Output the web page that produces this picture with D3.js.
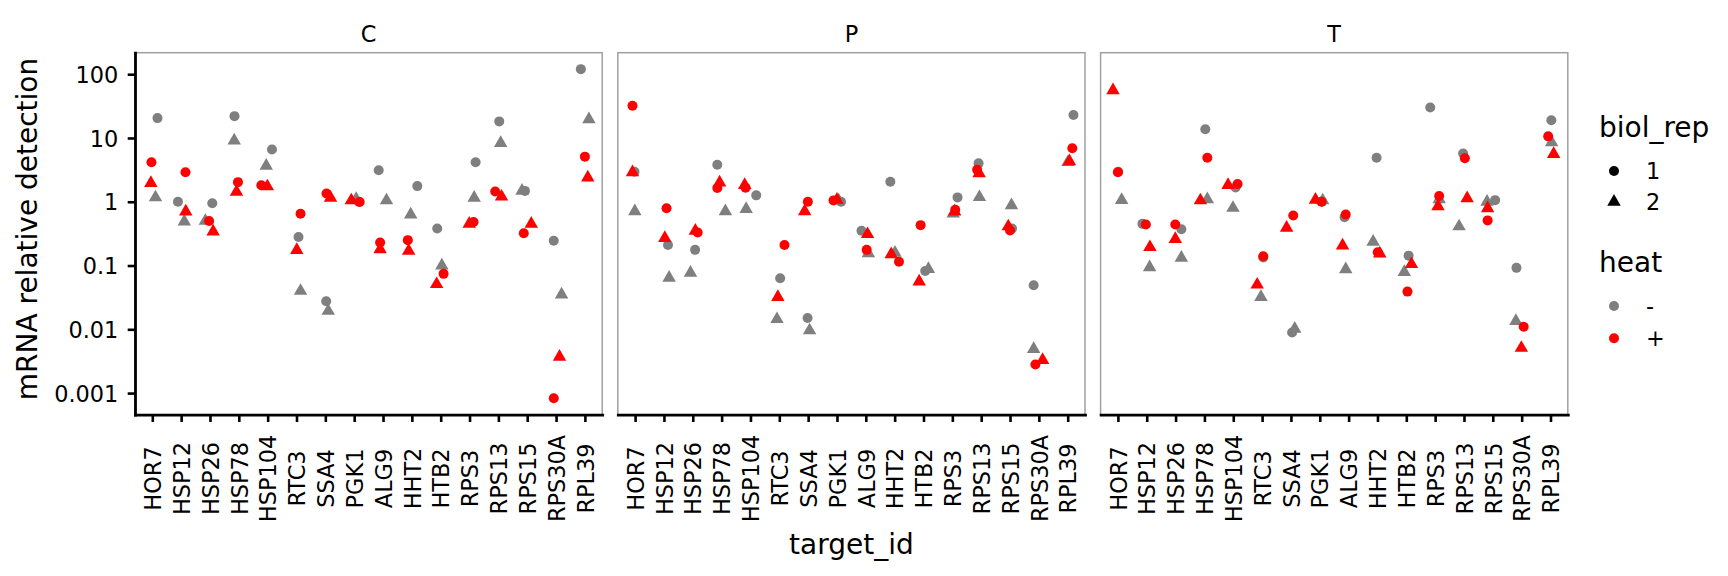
<!DOCTYPE html>
<html>
<head>
<meta charset="utf-8">
<script src="https://cdn.jsdelivr.net/npm/d3@7"></script>
<style>
  body { margin: 0; background: #fff; }
  svg { display: block; font-family: "DejaVu Sans", sans-serif; }
</style>
</head>
<body>
<svg id="chart" width="1728" height="576"></svg>
<script>
// genes on the x axis, in plot order
const targets = ["HOR7","HSP12","HSP26","HSP78","HSP104","RTC3","SSA4","PGK1",
                 "ALG9","HHT2","HTB2","RPS3","RPS13","RPS15","RPS30A","RPL39"];
const panels = ["C", "P", "T"];
const yTicks = [0.001, 0.01, 0.1, 1, 10, 100];

// relative detection (heat -/+ , biol_rep 1/2)
const C_minus_1 = [20.5, 1.0, 0.95, 22, 6.6, 0.28, 0.0276, 1.0, 3.12, 1.76, 0.38, 4.17, 18.2, 1.48, 0.245, 120];
const C_minus_2 = [1.17, 0.49, 0.5, 9.1, 3.65, 0.04, 0.0194, 1.1, 1.05, 0.63, 0.1, 1.15, 8.3, 1.48, 0.035, 19.6];
const C_plus_1  = [4.17, 2.9, 0.5, 2.03, 1.82, 0.65, 1.35, 0.99, 0.23, 0.25, 0.074, 0.48, 1.45, 0.32, 0.00083, 5.1];
const C_plus_2  = [1.96, 0.70, 0.34, 1.43, 1.74, 0.175, 1.15, 1.05, 0.18, 0.17, 0.051, 0.45, 1.2, 0.45, 0.0037, 2.4];

const P_minus_1 = [2.96, 0.21, 0.176, 3.8, 1.26, 0.063, 0.015, 1.0, 0.35, 2.06, 0.082, 1.17, 4.0, 0.38, 0.049, 23];
const P_minus_2 = [0.71, 0.064, 0.077, 0.71, 0.77, 0.0144, 0.0096, 1.05, 0.155, 0.158, 0.088, 0.65, 1.18, 0.88, 0.0049, 4.2];
const P_plus_1  = [32, 0.79, 0.33, 1.64, 1.66, 0.21, 1.0, 1.05, 0.176, 0.115, 0.43, 0.75, 3.18, 0.355, 0.0028, 6.9];
const P_plus_2  = [2.9, 0.27, 0.35, 2.0, 1.83, 0.032, 0.71, 1.07, 0.31, 0.15, 0.056, 0.70, 2.8, 0.41, 0.0033, 4.3];

const T_minus_1 = [2.96, 0.45, 0.37, 13.7, 1.68, 0.134, 0.0089, 1.0, 0.57, 4.9, 0.143, 30, 5.7, 1.06, 0.092, 19];
const T_minus_2 = [1.06, 0.094, 0.132, 1.09, 0.80, 0.032, 0.0102, 1.05, 0.087, 0.235, 0.079, 1.09, 0.41, 1.0, 0.0135, 8.5];
const T_plus_1  = [2.9, 0.44, 0.44, 4.9, 1.9, 0.14, 0.61, 1.0, 0.63, 0.162, 0.039, 1.23, 4.8, 0.51, 0.011, 10.6];
const T_plus_2  = [56, 0.194, 0.26, 1.05, 1.83, 0.05, 0.39, 1.07, 0.205, 0.154, 0.105, 0.85, 1.13, 0.79, 0.0051, 5.6];

// horizontal jitter of each point, in category units (as seen in the figure)
const C_jit_m1 = [.18,-.11,.08,-.15,.15,.07,.03,.16,-.15,.19,-.12,.21,.03,-.08,-.08,-.14];
const C_jit_m2 = [.11,.11,-.16,-.16,-.05,.14,.10,.07,.12,-.04,.04,.16,.08,-.18,.19,.14];
const C_jit_p1 = [-.03,.15,-.03,-.03,-.22,.14,.04,.19,-.10,-.14,.10,.14,-.11,-.12,-.08,0];
const C_jit_p2 = [-.05,.16,.11,-.08,-.01,.01,.18,-.10,-.10,-.11,-.14,-.01,.11,.14,.12,.10];
const P_jit_m1 = [-.02,.14,.08,-.15,.20,.03,-.02,.14,-.15,-.15,.06,.18,-.09,.07,-.18,.20];
const P_jit_m2 = [-.01,.18,-.08,.13,-.15,-.08,.05,.06,.09,.01,.17,.03,-.06,.05,-.18,.01];
const P_jit_p1 = [-.09,.09,.17,-.15,-.17,.18,-.01,-.12,.03,.15,-.10,.10,-.14,0,-.12,.16];
const P_jit_p2 = [-.09,.03,.09,-.07,-.20,-.05,-.12,0,.06,-.12,-.15,.08,-.07,-.06,.13,.06];
const T_jit_m1 = [.01,-.15,.20,.03,.08,.04,.04,.08,-.14,-.03,.08,-.17,-.03,.08,-.18,.03];
const T_jit_m2 = [.13,.10,.20,.10,-.01,-.04,.13,.10,-.10,-.15,-.07,.14,-.17,-.20,-.20,.04];
const T_jit_p1 = [0,-.03,-.01,.10,.15,.04,.08,.06,-.10,.01,.04,.14,.03,-.18,.07,-.08];
const T_jit_p2 = [-.17,.11,-.01,-.14,-.18,-.17,-.15,-.15,-.21,.08,.18,.10,.11,-.18,-.01,.11];

const series = [
  { panel: "C", heat: "-", rep: 1, vals: C_minus_1, jit: C_jit_m1 },
  { panel: "C", heat: "-", rep: 2, vals: C_minus_2, jit: C_jit_m2 },
  { panel: "C", heat: "+", rep: 1, vals: C_plus_1,  jit: C_jit_p1 },
  { panel: "C", heat: "+", rep: 2, vals: C_plus_2,  jit: C_jit_p2 },
  { panel: "P", heat: "-", rep: 1, vals: P_minus_1, jit: P_jit_m1 },
  { panel: "P", heat: "-", rep: 2, vals: P_minus_2, jit: P_jit_m2 },
  { panel: "P", heat: "+", rep: 1, vals: P_plus_1,  jit: P_jit_p1 },
  { panel: "P", heat: "+", rep: 2, vals: P_plus_2,  jit: P_jit_p2 },
  { panel: "T", heat: "-", rep: 1, vals: T_minus_1, jit: T_jit_m1 },
  { panel: "T", heat: "-", rep: 2, vals: T_minus_2, jit: T_jit_m2 },
  { panel: "T", heat: "+", rep: 1, vals: T_plus_1,  jit: T_jit_p1 },
  { panel: "T", heat: "+", rep: 2, vals: T_plus_2,  jit: T_jit_p2 }
];

const points = [];
series.forEach(s => s.vals.forEach((v, i) =>
  points.push({ panel: s.panel, heat: s.heat, rep: s.rep, target: targets[i], value: v, jit: s.jit[i] })));

// layout
const panelLeft = 135, panelW = 467.2, panelGap = 15.6;
const panelTop = 52.7, panelBottom = 414.7;
const tickLen = 7.3;
const ptR = 5;

const svg = d3.select('#chart');

const colorScale = d3.scaleOrdinal().domain(["-", "+"]).range(["#7f7f7f", "#ff0000"]);
const shapeScale = d3.scaleOrdinal().domain([1, 2]).range([d3.symbolCircle, d3.symbolTriangle]);
const symArea = Math.PI * ptR * ptR;

// log y with ggplot-like 5% expansion
const lg = d3.extent(points, d => Math.log10(d.value));
const pad = (lg[1] - lg[0]) * 0.05;
const yScale = d3.scaleLog()
  .domain([Math.pow(10, lg[0] - pad), Math.pow(10, lg[1] + pad)])
  .range([panelBottom, panelTop]);

const xScale = d3.scalePoint().domain(targets).range([0, panelW]).padding(0.6);

panels.forEach((p, pi) => {
  const x0 = panelLeft + pi * (panelW + panelGap);
  const g = svg.append('g').attr('transform', `translate(${x0},0)`);

  // panel border
  g.append('rect')
    .attr('x', 0).attr('y', panelTop)
    .attr('width', panelW).attr('height', panelBottom - panelTop)
    .attr('fill', 'none').attr('stroke', '#a0a0a0').attr('stroke-width', 1.5);

  // strip label
  g.append('text')
    .attr('x', panelW / 2).attr('y', 41.7)
    .attr('text-anchor', 'middle')
    .attr('font-size', 22.4)
    .text(p);

  // points: grey first, red on top
  const pts = points.filter(d => d.panel === p);
  g.selectAll('path.pt')
    .data(pts)
    .enter()
    .append('path')
    .attr('class', 'pt')
    .attr('d', d => d3.symbol(shapeScale(d.rep), symArea)())
    .attr('transform', d => `translate(${xScale(d.target) + d.jit * xScale.step()},${yScale(d.value)})`)
    .attr('fill', d => colorScale(d.heat));

  // x axis
  const xAxis = d3.axisBottom(xScale).tickSize(tickLen).tickSizeOuter(0);
  const ax = g.append('g')
    .attr('transform', `translate(0,${panelBottom})`)
    .call(xAxis);
  ax.select('.domain').attr('stroke-width', 2.8).attr('stroke-linecap', 'square');
  ax.selectAll('.tick line').attr('stroke-width', 2.6);
  ax.selectAll('.tick text')
    .attr('font-size', 22.4)
    .attr('font-family', '"DejaVu Sans", sans-serif')
    .attr('fill', '#000')
    .attr('x', null).attr('y', null).attr('dy', null)
    .attr('text-anchor', 'middle')
    .attr('transform', `translate(8.2,${478.5 - panelBottom}) rotate(-90)`);

  if (pi === 0) {
    const yAxis = d3.axisLeft(yScale)
      .tickValues(yTicks)
      .tickFormat(d3.format('~g'))
      .tickSize(tickLen).tickSizeOuter(0).tickPadding(9.4);
    const ay = g.append('g').call(yAxis);
    ay.select('.domain').attr('stroke-width', 2.8).attr('stroke-linecap', 'square');
    ay.selectAll('.tick line').attr('stroke-width', 2.6);
    ay.selectAll('.tick text')
      .attr('font-size', 22.4)
      .attr('font-family', '"DejaVu Sans", sans-serif')
      .attr('fill', '#000')
      .attr('dy', '0.36em');
  }
});

// axis titles
const plotMid = panelLeft + (3 * panelW + 2 * panelGap) / 2;
svg.append('text')
  .attr('x', plotMid).attr('y', 554)
  .attr('text-anchor', 'middle').attr('font-size', 28)
  .text('target_id');
svg.append('text')
  .attr('transform', 'translate(36.5,229) rotate(-90)')
  .attr('text-anchor', 'middle').attr('font-size', 28)
  .text('mRNA relative detection');

// legends
const leg = svg.append('g');
leg.append('text').attr('x', 1599).attr('y', 136.7).attr('font-size', 28).text('biol_rep');
[1, 2].forEach((r, i) => {
  const yy = 171 + i * 30.8;
  leg.append('path')
    .attr('d', d3.symbol(shapeScale(r), symArea)())
    .attr('transform', `translate(1614,${yy})`)
    .attr('fill', '#000');
  leg.append('text').attr('x', 1646).attr('y', yy).attr('dy', '0.36em')
    .attr('font-size', 22.4).text(r);
});
leg.append('text').attr('x', 1599).attr('y', 271.7).attr('font-size', 28).text('heat');
["-", "+"].forEach((h, i) => {
  const yy = 306 + i * 32.3;
  leg.append('path')
    .attr('d', d3.symbol(d3.symbolCircle, symArea)())
    .attr('transform', `translate(1614,${yy})`)
    .attr('fill', colorScale(h));
  leg.append('text').attr('x', 1646).attr('y', yy).attr('dy', '0.36em')
    .attr('font-size', 22.4).text(h);
});
</script>
</body>
</html>
